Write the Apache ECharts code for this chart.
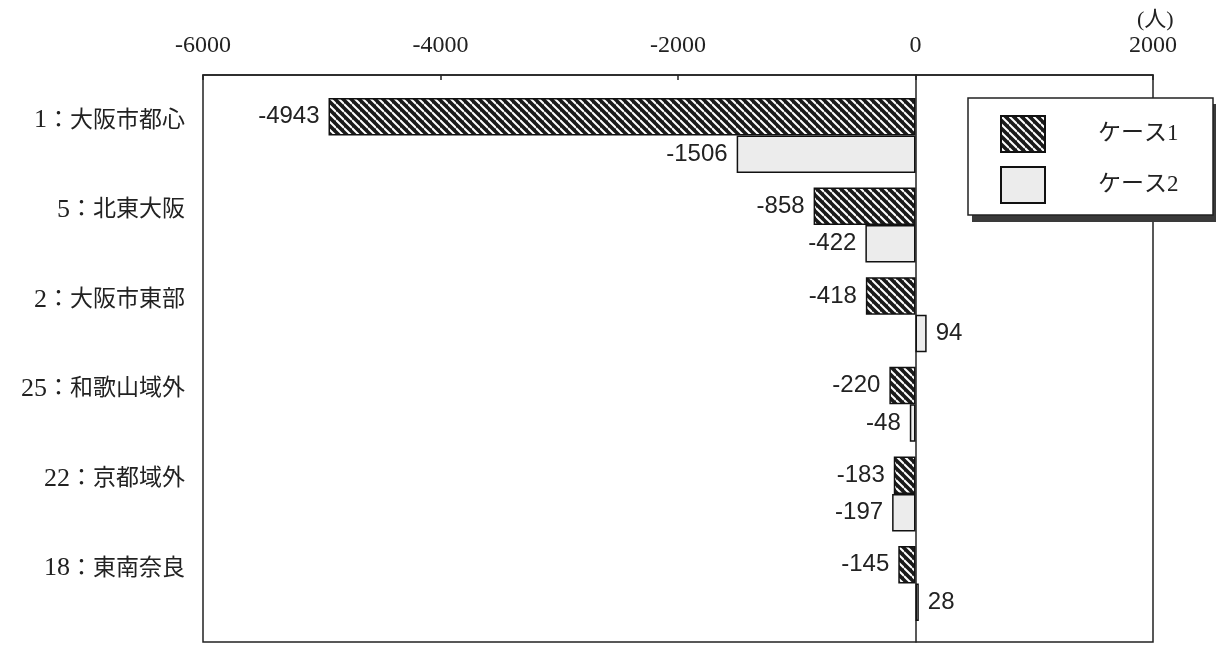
<!DOCTYPE html>
<html>
<head>
<meta charset="utf-8">
<script src="https://cdn.jsdelivr.net/npm/echarts@6/dist/echarts.min.js"></script>
<style>
  html, body { margin: 0; padding: 0; background: #fff; }
  #chart { width: 1216px; height: 646px; }
</style>
</head>
<body>
<div id="chart"></div>
<script>
// 地域ごとの人数の増減（ケース1・ケース2）
const categories = ['1：大阪市都心', '5：北東大阪', '2：大阪市東部', '25：和歌山域外', '22：京都域外', '18：東南奈良'];
const seriesNames = ['ケース1', 'ケース2'];
const case1 = [-4943, -858, -418, -220, -183, -145];
const case2 = [-1506, -422, 94, -48, -197, 28];
const xTicks = { min: -6000, max: 2000, interval: 2000 };
const unitLabel = '(人)';

// 斜線ハッチング（黒地に白い斜線）
function hatchPattern() {
  const c = document.createElement('canvas');
  c.width = 8; c.height = 8;
  const g = c.getContext('2d');
  g.fillStyle = '#1a1a1a';
  g.fillRect(0, 0, 8, 8);
  g.strokeStyle = '#ffffff';
  g.lineWidth = 2;
  [-8, 0, 8].forEach(function (o) {
    g.beginPath();
    g.moveTo(0, o);
    g.lineTo(8, o + 8);
    g.stroke();
  });
  return c;
}

const valueFont = "'Liberation Sans', Arial, sans-serif";
const serifFont = "'Liberation Serif', 'Noto Sans CJK JP', serif";

function labelFor(v) {
  return {
    show: true,
    position: v < 0 ? 'left' : 'right',
    distance: 9,
    fontFamily: valueFont,
    fontSize: 24,
    color: '#222'
  };
}

function toItems(arr) {
  return arr.map(function (v) { return { value: v, label: labelFor(v) }; });
}

const chart = echarts.init(document.getElementById('chart'), null, { renderer: 'canvas' });

chart.setOption({
  backgroundColor: '#ffffff',
  animation: false,
  grid: [
    // 外枠
    { left: 203, right: 63, top: 75, bottom: 4, show: true, borderColor: '#222', borderWidth: 1.5, backgroundColor: 'transparent' },
    // 棒の描画領域
    { left: 203, right: 63, top: 90.7, bottom: 17.7 }
  ],
  xAxis: [
    {
      gridIndex: 0, type: 'value', position: 'top',
      min: xTicks.min, max: xTicks.max, interval: xTicks.interval,
      axisLine: { show: true, onZero: false, lineStyle: { color: '#222', width: 1.5 } },
      axisTick: { show: true, inside: true, length: 5, lineStyle: { color: '#222', width: 1.5 } },
      axisLabel: {
        margin: 17, fontFamily: serifFont, fontSize: 24, color: '#222',
        formatter: function (v) { return String(v); }
      },
      splitLine: { show: false }
    },
    {
      gridIndex: 1, type: 'value',
      min: xTicks.min, max: xTicks.max, interval: xTicks.interval,
      show: false
    }
  ],
  yAxis: [
    {
      // 0 の縦線
      gridIndex: 0, type: 'value', min: 0, max: 1,
      axisLine: { show: true, onZero: true, lineStyle: { color: '#222', width: 1.5 } },
      axisTick: { show: false }, axisLabel: { show: false }, splitLine: { show: false }
    },
    {
      gridIndex: 1, type: 'category', inverse: true, data: categories,
      axisLine: { show: false }, axisTick: { show: false },
      axisLabel: {
        margin: 18, color: '#222',
        verticalAlign: 'bottom', lineHeight: 30,
        formatter: function (s) {
          const i = s.indexOf('：');
          return '{n|' + s.slice(0, i) + '}{t|' + s.slice(i) + '}';
        },
        rich: {
          n: { fontFamily: serifFont, fontSize: 26, color: '#222', lineHeight: 30 },
          t: { fontFamily: serifFont, fontSize: 23, color: '#222', lineHeight: 30 }
        }
      },
      splitLine: { show: false }
    }
  ],
  legend: {
    orient: 'vertical',
    left: 968, top: 98,
    padding: [17, 30, 12, 32],
    itemWidth: 44, itemHeight: 36, itemGap: 13,
    icon: 'rect',
    z: 10,
    textStyle: { fontFamily: serifFont, fontSize: 23, color: '#222', padding: [0, 0, 0, 48] },
    data: seriesNames
  },
  series: [
    {
      name: seriesNames[0], type: 'bar', xAxisIndex: 1, yAxisIndex: 1,
      barWidth: 37.5, barGap: '0%',
      itemStyle: { color: { image: hatchPattern(), repeat: 'repeat' }, borderColor: '#111', borderWidth: 1.5 },
      data: toItems(case1)
    },
    {
      name: seriesNames[1], type: 'bar', xAxisIndex: 1, yAxisIndex: 1,
      barWidth: 37.5, barGap: '0%',
      itemStyle: { color: '#ececec', borderColor: '#111', borderWidth: 1.5 },
      data: toItems(case2)
    }
  ],
  graphic: [
    {
      type: 'text', left: 1137, top: 9,
      style: { text: unitLabel, fontFamily: serifFont, fontSize: 22, fill: '#222' }
    },
    // 凡例の枠と影
    {
      type: 'rect', z: 5, shape: { x: 972, y: 104, width: 245, height: 118 },
      style: { fill: '#3a3a3a' }
    },
    {
      type: 'rect', z: 6, shape: { x: 968, y: 98, width: 245, height: 117 },
      style: { fill: '#ffffff', stroke: '#222', lineWidth: 1.5 }
    }
  ]
});
</script>
</body>
</html>
